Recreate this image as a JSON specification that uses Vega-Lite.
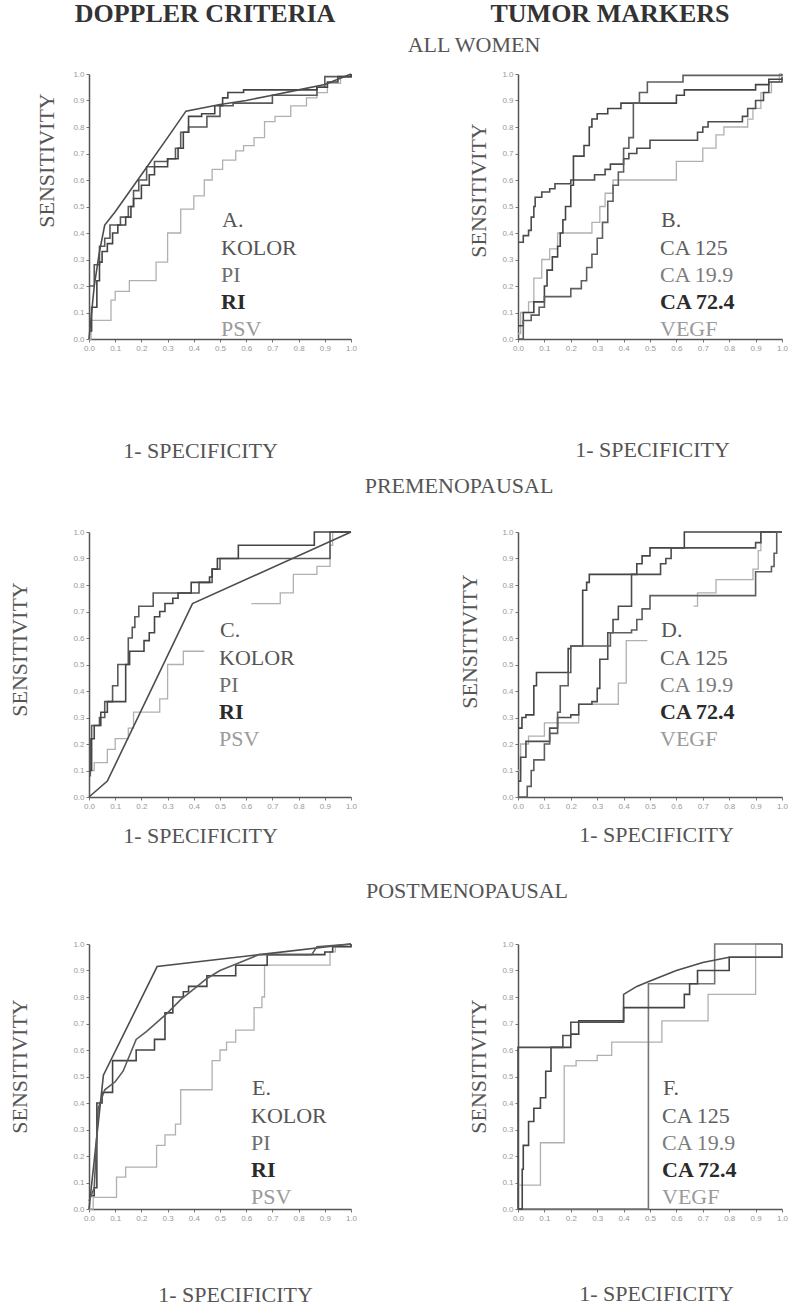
{
"$schema":"https://vega.github.io/schema/vega-lite/v6.json",
"background":"white",
"padding":{"left":7,"top":1,"right":0,"bottom":0},
"config":{
 "view":{"stroke":null},
 "font":"Liberation Serif",
 "axis":{"grid":false,"domainColor":"#555","domainWidth":1.5,"tickColor":"#777","tickSize":3,"tickWidth":1,"labelFont":"Liberation Sans","labelFontSize":8,"labelColor":"#999999","labelPadding":2,"labelFlush":false,"labelOverlap":false,"titleFont":"Liberation Serif","titleFontSize":22,"titleFontWeight":"normal","titleColor":"#555"},
 "legend":{"titleFont":"Liberation Serif","titleFontSize":22,"titleFontWeight":"normal","titleColor":"#555","labelFont":"Liberation Serif","labelFontSize":22,"symbolSize":0,"symbolOpacity":0,"symbolStrokeWidth":0,"labelOffset":-23,"rowPadding":5,"titlePadding":5,"padding":3,"labelLimit":0},
 "title":{"font":"Liberation Serif","fontSize":26,"fontWeight":"bold","color":"#333"}
},
"datasets":{
 "A":[
 {"s":"KOLOR","x":0,"y":0},{"s":"KOLOR","x":0.02,"y":0.2},{"s":"KOLOR","x":0.04,"y":0.33},{"s":"KOLOR","x":0.06,"y":0.43},{"s":"KOLOR","x":0.1,"y":0.48},{"s":"KOLOR","x":0.2,"y":0.62},{"s":"KOLOR","x":0.3,"y":0.76},{"s":"KOLOR","x":0.37,"y":0.86},{"s":"KOLOR","x":0.5,"y":0.885},{"s":"KOLOR","x":0.6,"y":0.9},{"s":"KOLOR","x":0.7,"y":0.92},{"s":"KOLOR","x":0.8,"y":0.94},{"s":"KOLOR","x":0.9,"y":0.96},{"s":"KOLOR","x":1,"y":1},
 {"s":"PI","x":0,"y":0.2},{"s":"PI","x":0.02,"y":0.28},{"s":"PI","x":0.04,"y":0.35},{"s":"PI","x":0.06,"y":0.38},{"s":"PI","x":0.08,"y":0.43},{"s":"PI","x":0.12,"y":0.46},{"s":"PI","x":0.15,"y":0.5},{"s":"PI","x":0.17,"y":0.56},{"s":"PI","x":0.19,"y":0.6},{"s":"PI","x":0.22,"y":0.65},{"s":"PI","x":0.25,"y":0.67},{"s":"PI","x":0.3,"y":0.68},{"s":"PI","x":0.33,"y":0.72},{"s":"PI","x":0.35,"y":0.78},{"s":"PI","x":0.38,"y":0.8},{"s":"PI","x":0.45,"y":0.84},{"s":"PI","x":0.5,"y":0.88},{"s":"PI","x":0.55,"y":0.89},{"s":"PI","x":0.7,"y":0.92},{"s":"PI","x":0.87,"y":0.95},{"s":"PI","x":0.9,"y":0.99},{"s":"PI","x":1,"y":1},
 {"s":"RI","x":0,"y":0.03},{"s":"RI","x":0.01,"y":0.12},{"s":"RI","x":0.03,"y":0.22},{"s":"RI","x":0.04,"y":0.29},{"s":"RI","x":0.05,"y":0.33},{"s":"RI","x":0.07,"y":0.36},{"s":"RI","x":0.09,"y":0.4},{"s":"RI","x":0.11,"y":0.43},{"s":"RI","x":0.14,"y":0.46},{"s":"RI","x":0.16,"y":0.5},{"s":"RI","x":0.17,"y":0.53},{"s":"RI","x":0.2,"y":0.58},{"s":"RI","x":0.23,"y":0.62},{"s":"RI","x":0.25,"y":0.65},{"s":"RI","x":0.3,"y":0.68},{"s":"RI","x":0.34,"y":0.72},{"s":"RI","x":0.36,"y":0.78},{"s":"RI","x":0.38,"y":0.84},{"s":"RI","x":0.43,"y":0.85},{"s":"RI","x":0.48,"y":0.88},{"s":"RI","x":0.51,"y":0.91},{"s":"RI","x":0.53,"y":0.93},{"s":"RI","x":0.59,"y":0.94},{"s":"RI","x":0.87,"y":0.95},{"s":"RI","x":0.91,"y":0.97},{"s":"RI","x":0.95,"y":0.99},{"s":"RI","x":1,"y":1},
 {"s":"PSV","x":0,"y":0},{"s":"PSV","x":0.008,"y":0.07},{"s":"PSV","x":0.084,"y":0.147},{"s":"PSV","x":0.1,"y":0.18},{"s":"PSV","x":0.154,"y":0.22},{"s":"PSV","x":0.256,"y":0.29},{"s":"PSV","x":0.3,"y":0.4},{"s":"PSV","x":0.35,"y":0.49},{"s":"PSV","x":0.4,"y":0.54},{"s":"PSV","x":0.44,"y":0.6},{"s":"PSV","x":0.47,"y":0.64},{"s":"PSV","x":0.51,"y":0.675},{"s":"PSV","x":0.56,"y":0.71},{"s":"PSV","x":0.59,"y":0.73},{"s":"PSV","x":0.63,"y":0.76},{"s":"PSV","x":0.67,"y":0.82},{"s":"PSV","x":0.71,"y":0.84},{"s":"PSV","x":0.77,"y":0.88},{"s":"PSV","x":0.83,"y":0.91},{"s":"PSV","x":0.87,"y":0.93},{"s":"PSV","x":0.91,"y":0.965},{"s":"PSV","x":0.96,"y":0.99},{"s":"PSV","x":1,"y":1}
 ],
 "B":[
 {"s":"CA 125","x":0,"y":0.365},{"s":"CA 125","x":0.02,"y":0.39},{"s":"CA 125","x":0.04,"y":0.41},{"s":"CA 125","x":0.05,"y":0.46},{"s":"CA 125","x":0.06,"y":0.5},{"s":"CA 125","x":0.065,"y":0.535},{"s":"CA 125","x":0.09,"y":0.555},{"s":"CA 125","x":0.12,"y":0.567},{"s":"CA 125","x":0.14,"y":0.586},{"s":"CA 125","x":0.2,"y":0.6},{"s":"CA 125","x":0.29,"y":0.62},{"s":"CA 125","x":0.33,"y":0.64},{"s":"CA 125","x":0.35,"y":0.66},{"s":"CA 125","x":0.4,"y":0.68},{"s":"CA 125","x":0.42,"y":0.7},{"s":"CA 125","x":0.45,"y":0.72},{"s":"CA 125","x":0.5,"y":0.75},{"s":"CA 125","x":0.68,"y":0.78},{"s":"CA 125","x":0.7,"y":0.8},{"s":"CA 125","x":0.72,"y":0.82},{"s":"CA 125","x":0.85,"y":0.84},{"s":"CA 125","x":0.87,"y":0.87},{"s":"CA 125","x":0.9,"y":0.9},{"s":"CA 125","x":0.93,"y":0.93},{"s":"CA 125","x":0.95,"y":0.97},{"s":"CA 125","x":1,"y":0.98},
 {"s":"CA 72.4","x":0,"y":0.05},{"s":"CA 72.4","x":0.02,"y":0.1},{"s":"CA 72.4","x":0.06,"y":0.14},{"s":"CA 72.4","x":0.1,"y":0.2},{"s":"CA 72.4","x":0.11,"y":0.26},{"s":"CA 72.4","x":0.13,"y":0.31},{"s":"CA 72.4","x":0.15,"y":0.35},{"s":"CA 72.4","x":0.16,"y":0.4},{"s":"CA 72.4","x":0.17,"y":0.45},{"s":"CA 72.4","x":0.18,"y":0.5},{"s":"CA 72.4","x":0.2,"y":0.58},{"s":"CA 72.4","x":0.21,"y":0.69},{"s":"CA 72.4","x":0.25,"y":0.73},{"s":"CA 72.4","x":0.27,"y":0.8},{"s":"CA 72.4","x":0.28,"y":0.83},{"s":"CA 72.4","x":0.3,"y":0.85},{"s":"CA 72.4","x":0.34,"y":0.87},{"s":"CA 72.4","x":0.39,"y":0.89},{"s":"CA 72.4","x":0.6,"y":0.92},{"s":"CA 72.4","x":0.63,"y":0.94},{"s":"CA 72.4","x":0.9,"y":0.96},{"s":"CA 72.4","x":0.95,"y":0.98},{"s":"CA 72.4","x":1,"y":0.99},
 {"s":"CA 19.9","x":0,"y":0},{"s":"CA 19.9","x":0.02,"y":0.07},{"s":"CA 19.9","x":0.05,"y":0.09},{"s":"CA 19.9","x":0.08,"y":0.12},{"s":"CA 19.9","x":0.1,"y":0.16},{"s":"CA 19.9","x":0.2,"y":0.19},{"s":"CA 19.9","x":0.24,"y":0.22},{"s":"CA 19.9","x":0.26,"y":0.27},{"s":"CA 19.9","x":0.28,"y":0.32},{"s":"CA 19.9","x":0.3,"y":0.38},{"s":"CA 19.9","x":0.32,"y":0.44},{"s":"CA 19.9","x":0.34,"y":0.52},{"s":"CA 19.9","x":0.36,"y":0.58},{"s":"CA 19.9","x":0.38,"y":0.63},{"s":"CA 19.9","x":0.4,"y":0.72},{"s":"CA 19.9","x":0.42,"y":0.76},{"s":"CA 19.9","x":0.437,"y":0.89},{"s":"CA 19.9","x":0.46,"y":0.93},{"s":"CA 19.9","x":0.49,"y":0.97},{"s":"CA 19.9","x":0.625,"y":0.995},{"s":"CA 19.9","x":1,"y":1},
 {"s":"VEGF","x":0,"y":0.02},{"s":"VEGF","x":0.01,"y":0.1},{"s":"VEGF","x":0.04,"y":0.14},{"s":"VEGF","x":0.06,"y":0.23},{"s":"VEGF","x":0.09,"y":0.3},{"s":"VEGF","x":0.12,"y":0.34},{"s":"VEGF","x":0.15,"y":0.4},{"s":"VEGF","x":0.28,"y":0.44},{"s":"VEGF","x":0.31,"y":0.5},{"s":"VEGF","x":0.33,"y":0.55},{"s":"VEGF","x":0.36,"y":0.6},{"s":"VEGF","x":0.6,"y":0.67},{"s":"VEGF","x":0.7,"y":0.72},{"s":"VEGF","x":0.75,"y":0.77},{"s":"VEGF","x":0.78,"y":0.8},{"s":"VEGF","x":0.87,"y":0.83},{"s":"VEGF","x":0.89,"y":0.87},{"s":"VEGF","x":0.92,"y":0.93},{"s":"VEGF","x":0.96,"y":0.97},{"s":"VEGF","x":0.99,"y":1},{"s":"VEGF","x":1,"y":1}
 ],
 "C":[
 {"s":"KOLOR","x":0,"y":0},{"s":"KOLOR","x":0.07,"y":0.06},{"s":"KOLOR","x":0.395,"y":0.73},{"s":"KOLOR","x":1,"y":1},
 {"s":"PI","x":0,"y":0.08},{"s":"PI","x":0.005,"y":0.22},{"s":"PI","x":0.01,"y":0.27},{"s":"PI","x":0.04,"y":0.3},{"s":"PI","x":0.06,"y":0.36},{"s":"PI","x":0.09,"y":0.42},{"s":"PI","x":0.11,"y":0.5},{"s":"PI","x":0.15,"y":0.6},{"s":"PI","x":0.165,"y":0.64},{"s":"PI","x":0.175,"y":0.68},{"s":"PI","x":0.19,"y":0.72},{"s":"PI","x":0.245,"y":0.77},{"s":"PI","x":0.42,"y":0.81},{"s":"PI","x":0.47,"y":0.86},{"s":"PI","x":0.5,"y":0.9},{"s":"PI","x":0.92,"y":1},{"s":"PI","x":1,"y":1},
 {"s":"RI","x":0,"y":0.1},{"s":"RI","x":0.01,"y":0.22},{"s":"RI","x":0.02,"y":0.27},{"s":"RI","x":0.045,"y":0.32},{"s":"RI","x":0.07,"y":0.36},{"s":"RI","x":0.14,"y":0.5},{"s":"RI","x":0.155,"y":0.55},{"s":"RI","x":0.21,"y":0.59},{"s":"RI","x":0.23,"y":0.62},{"s":"RI","x":0.25,"y":0.68},{"s":"RI","x":0.27,"y":0.7},{"s":"RI","x":0.29,"y":0.73},{"s":"RI","x":0.32,"y":0.75},{"s":"RI","x":0.34,"y":0.77},{"s":"RI","x":0.39,"y":0.81},{"s":"RI","x":0.46,"y":0.83},{"s":"RI","x":0.47,"y":0.86},{"s":"RI","x":0.49,"y":0.9},{"s":"RI","x":0.57,"y":0.95},{"s":"RI","x":0.86,"y":1},{"s":"RI","x":1,"y":1},
 {"s":"PSV","g":1,"x":0,"y":0.1},{"s":"PSV","g":1,"x":0.02,"y":0.13},{"s":"PSV","g":1,"x":0.07,"y":0.18},{"s":"PSV","g":1,"x":0.1,"y":0.22},{"s":"PSV","g":1,"x":0.15,"y":0.26},{"s":"PSV","g":1,"x":0.17,"y":0.32},{"s":"PSV","g":1,"x":0.27,"y":0.37},{"s":"PSV","g":1,"x":0.3,"y":0.5},{"s":"PSV","g":1,"x":0.36,"y":0.55},{"s":"PSV","g":1,"x":0.44,"y":0.55},
 {"s":"PSV","g":2,"x":0.62,"y":0.73},{"s":"PSV","g":2,"x":0.73,"y":0.77},{"s":"PSV","g":2,"x":0.78,"y":0.84},{"s":"PSV","g":2,"x":0.87,"y":0.87},{"s":"PSV","g":2,"x":0.92,"y":0.95},{"s":"PSV","g":2,"x":0.93,"y":1},{"s":"PSV","g":2,"x":1,"y":1}
 ],
 "D":[
 {"s":"CA 72.4","x":0,"y":0.26},{"s":"CA 72.4","x":0.015,"y":0.3},{"s":"CA 72.4","x":0.03,"y":0.31},{"s":"CA 72.4","x":0.06,"y":0.42},{"s":"CA 72.4","x":0.07,"y":0.47},{"s":"CA 72.4","x":0.19,"y":0.56},{"s":"CA 72.4","x":0.2,"y":0.57},{"s":"CA 72.4","x":0.245,"y":0.78},{"s":"CA 72.4","x":0.26,"y":0.81},{"s":"CA 72.4","x":0.27,"y":0.84},{"s":"CA 72.4","x":0.45,"y":0.88},{"s":"CA 72.4","x":0.47,"y":0.91},{"s":"CA 72.4","x":0.5,"y":0.94},{"s":"CA 72.4","x":0.63,"y":1},{"s":"CA 72.4","x":1,"y":1},
 {"s":"CA 125","x":0,"y":0.06},{"s":"CA 125","x":0.01,"y":0.15},{"s":"CA 125","x":0.03,"y":0.21},{"s":"CA 125","x":0.12,"y":0.26},{"s":"CA 125","x":0.15,"y":0.3},{"s":"CA 125","x":0.2,"y":0.31},{"s":"CA 125","x":0.23,"y":0.35},{"s":"CA 125","x":0.28,"y":0.36},{"s":"CA 125","x":0.3,"y":0.41},{"s":"CA 125","x":0.31,"y":0.52},{"s":"CA 125","x":0.34,"y":0.62},{"s":"CA 125","x":0.36,"y":0.67},{"s":"CA 125","x":0.38,"y":0.72},{"s":"CA 125","x":0.43,"y":0.84},{"s":"CA 125","x":0.54,"y":0.88},{"s":"CA 125","x":0.56,"y":0.9},{"s":"CA 125","x":0.58,"y":0.94},{"s":"CA 125","x":0.9,"y":0.96},{"s":"CA 125","x":0.92,"y":1},{"s":"CA 125","x":1,"y":1},
 {"s":"CA 19.9","x":0,"y":0},{"s":"CA 19.9","x":0.035,"y":0.04},{"s":"CA 19.9","x":0.05,"y":0.1},{"s":"CA 19.9","x":0.06,"y":0.14},{"s":"CA 19.9","x":0.1,"y":0.2},{"s":"CA 19.9","x":0.12,"y":0.24},{"s":"CA 19.9","x":0.15,"y":0.32},{"s":"CA 19.9","x":0.16,"y":0.42},{"s":"CA 19.9","x":0.19,"y":0.47},{"s":"CA 19.9","x":0.2,"y":0.57},{"s":"CA 19.9","x":0.35,"y":0.62},{"s":"CA 19.9","x":0.43,"y":0.63},{"s":"CA 19.9","x":0.45,"y":0.67},{"s":"CA 19.9","x":0.47,"y":0.71},{"s":"CA 19.9","x":0.5,"y":0.76},{"s":"CA 19.9","x":0.9,"y":0.85},{"s":"CA 19.9","x":0.96,"y":0.87},{"s":"CA 19.9","x":0.97,"y":0.92},{"s":"CA 19.9","x":0.98,"y":1},{"s":"CA 19.9","x":1,"y":1},
 {"s":"VEGF","g":1,"x":0,"y":0.1},{"s":"VEGF","g":1,"x":0.01,"y":0.2},{"s":"VEGF","g":1,"x":0.04,"y":0.23},{"s":"VEGF","g":1,"x":0.1,"y":0.28},{"s":"VEGF","g":1,"x":0.23,"y":0.35},{"s":"VEGF","g":1,"x":0.38,"y":0.43},{"s":"VEGF","g":1,"x":0.41,"y":0.59},{"s":"VEGF","g":1,"x":0.49,"y":0.59},
 {"s":"VEGF","g":2,"x":0.665,"y":0.72},{"s":"VEGF","g":2,"x":0.68,"y":0.77},{"s":"VEGF","g":2,"x":0.75,"y":0.82},{"s":"VEGF","g":2,"x":0.89,"y":0.86},{"s":"VEGF","g":2,"x":0.91,"y":0.93},{"s":"VEGF","g":2,"x":0.92,"y":1},{"s":"VEGF","g":2,"x":1,"y":1}
 ],
 "E":[
 {"s":"KOLOR","x":0,"y":0},{"s":"KOLOR","x":0.055,"y":0.505},{"s":"KOLOR","x":0.26,"y":0.915},{"s":"KOLOR","x":0.65,"y":0.96},{"s":"KOLOR","x":1,"y":1},
 {"s":"PI","x":0,"y":0.03},{"s":"PI","x":0.02,"y":0.08},{"s":"PI","x":0.035,"y":0.38},{"s":"PI","x":0.06,"y":0.45},{"s":"PI","x":0.1,"y":0.48},{"s":"PI","x":0.13,"y":0.52},{"s":"PI","x":0.18,"y":0.64},{"s":"PI","x":0.22,"y":0.67},{"s":"PI","x":0.3,"y":0.74},{"s":"PI","x":0.35,"y":0.79},{"s":"PI","x":0.4,"y":0.83},{"s":"PI","x":0.45,"y":0.87},{"s":"PI","x":0.5,"y":0.9},{"s":"PI","x":0.55,"y":0.92},{"s":"PI","x":0.65,"y":0.96},{"s":"PI","x":0.85,"y":0.96},{"s":"PI","x":0.87,"y":0.99},{"s":"PI","x":1,"y":1},
 {"s":"RI","x":0,"y":0.05},{"s":"RI","x":0.02,"y":0.08},{"s":"RI","x":0.03,"y":0.4},{"s":"RI","x":0.05,"y":0.44},{"s":"RI","x":0.09,"y":0.56},{"s":"RI","x":0.18,"y":0.6},{"s":"RI","x":0.25,"y":0.64},{"s":"RI","x":0.29,"y":0.74},{"s":"RI","x":0.32,"y":0.8},{"s":"RI","x":0.36,"y":0.82},{"s":"RI","x":0.38,"y":0.84},{"s":"RI","x":0.45,"y":0.88},{"s":"RI","x":0.56,"y":0.92},{"s":"RI","x":0.68,"y":0.96},{"s":"RI","x":0.9,"y":0.97},{"s":"RI","x":0.93,"y":0.99},{"s":"RI","x":1,"y":1},
 {"s":"PSV","x":0,"y":0},{"s":"PSV","x":0.016,"y":0.044},{"s":"PSV","x":0.105,"y":0.12},{"s":"PSV","x":0.14,"y":0.158},{"s":"PSV","x":0.258,"y":0.24},{"s":"PSV","x":0.29,"y":0.28},{"s":"PSV","x":0.33,"y":0.32},{"s":"PSV","x":0.35,"y":0.45},{"s":"PSV","x":0.47,"y":0.56},{"s":"PSV","x":0.5,"y":0.6},{"s":"PSV","x":0.525,"y":0.63},{"s":"PSV","x":0.56,"y":0.675},{"s":"PSV","x":0.63,"y":0.76},{"s":"PSV","x":0.66,"y":0.8},{"s":"PSV","x":0.67,"y":0.92},{"s":"PSV","x":0.92,"y":0.97},{"s":"PSV","x":0.94,"y":0.99},{"s":"PSV","x":1,"y":1}
 ],
 "F":[
 {"s":"CA 125","x":0,"y":0},{"s":"CA 125","x":0,"y":0.61},{"s":"CA 125","x":0.17,"y":0.61},{"s":"CA 125","x":0.17,"y":0.655},{"s":"CA 125","x":0.2,"y":0.655},{"s":"CA 125","x":0.2,"y":0.705},{"s":"CA 125","x":0.4,"y":0.705},{"s":"CA 125","x":0.4,"y":0.81},{"s":"CA 125","x":0.45,"y":0.84},{"s":"CA 125","x":0.5,"y":0.86},{"s":"CA 125","x":0.6,"y":0.9},{"s":"CA 125","x":0.7,"y":0.93},{"s":"CA 125","x":0.8,"y":0.95},{"s":"CA 125","x":1,"y":0.95},{"s":"CA 125","x":1,"y":1},
 {"s":"CA 19.9","x":0,"y":0},{"s":"CA 19.9","x":0.494,"y":0.85},{"s":"CA 19.9","x":0.745,"y":1},{"s":"CA 19.9","x":1,"y":1},
 {"s":"CA 72.4","x":0,"y":0},{"s":"CA 72.4","x":0.016,"y":0.15},{"s":"CA 72.4","x":0.02,"y":0.24},{"s":"CA 72.4","x":0.04,"y":0.33},{"s":"CA 72.4","x":0.06,"y":0.38},{"s":"CA 72.4","x":0.085,"y":0.42},{"s":"CA 72.4","x":0.105,"y":0.52},{"s":"CA 72.4","x":0.125,"y":0.61},{"s":"CA 72.4","x":0.2,"y":0.66},{"s":"CA 72.4","x":0.23,"y":0.71},{"s":"CA 72.4","x":0.4,"y":0.76},{"s":"CA 72.4","x":0.63,"y":0.81},{"s":"CA 72.4","x":0.65,"y":0.85},{"s":"CA 72.4","x":0.68,"y":0.9},{"s":"CA 72.4","x":0.8,"y":0.95},{"s":"CA 72.4","x":1,"y":0.95},
 {"s":"VEGF","x":0,"y":0.09},{"s":"VEGF","x":0.085,"y":0.25},{"s":"VEGF","x":0.175,"y":0.54},{"s":"VEGF","x":0.22,"y":0.56},{"s":"VEGF","x":0.3,"y":0.58},{"s":"VEGF","x":0.355,"y":0.63},{"s":"VEGF","x":0.545,"y":0.71},{"s":"VEGF","x":0.72,"y":0.81},{"s":"VEGF","x":0.9,"y":1},{"s":"VEGF","x":1,"y":1}
 ]
},
"vconcat":[
 {"hconcat":[
  {"data":{"name":"A"},"width":262,"height":265,
   "title":{"text":"DOPPLER CRITERIA","anchor":"middle","frame":"group","offset":43,"dx":-15},
   "encoding":{
    "x":{"field":"x","type":"quantitative","scale":{"domain":[0,1],"nice":false,"zero":false},"axis":{"values":[0,0.1,0.2,0.3,0.4,0.5,0.6,0.7,0.8,0.9,1],"format":".1f","title":"1- SPECIFICITY","titleFont":"Liberation Serif","titleX":111,"titleY":111,"titleAlign":"center","titleBaseline":"middle"}},
    "y":{"field":"y","type":"quantitative","scale":{"domain":[0,1],"nice":false,"zero":false},"axis":{"values":[0,0.1,0.2,0.3,0.4,0.5,0.6,0.7,0.8,0.9,1],"format":".1f","title":"SENSITIVITY","titleFont":"Liberation Serif","titleX":-43,"titleY":86,"titleAlign":"center","titleBaseline":"middle","titleAngle":-90}},
    "color":{"field":"s","type":"nominal","scale":{"domain":["KOLOR","PI","RI","PSV"],"range":["#4d4d4d","#5a5a5a","#444444","#b0b0b0"]},
     "legend":{"orient":"none","legendX":130,"legendY":133,"title":"A.","titleFont":"Liberation Serif","labelFont":"Liberation Serif","encode":{"labels":{"update":{"fill":{"signal":"datum.value==='KOLOR'?'#555555':datum.value==='PI'?'#6e6e6e':(datum.value==='RI'||datum.value==='CA 72.4')?'#2b2b2b':datum.value==='CA 125'?'#606060':datum.value==='CA 19.9'?'#7c7c7c':'#9a9a9a'"},"fontWeight":{"signal":"(datum.value==='RI'||datum.value==='CA 72.4')?'bold':'normal'"}}}}}}
   },
   "layer":[
    {"transform":[{"filter":{"field":"s","oneOf":["PSV"]}}],"mark":{"type":"line","interpolate":"step-after","strokeWidth":1.3},"encoding":{}},
    {"transform":[{"filter":{"field":"s","oneOf":["PI","RI"]}}],"mark":{"type":"line","interpolate":"step-after","strokeWidth":1.6},"encoding":{}},
    {"transform":[{"filter":{"field":"s","oneOf":["KOLOR"]}}],"mark":{"type":"line","strokeWidth":1.6},"encoding":{}}
   ]},
  {"data":{"name":"B"},"width":264,"height":265,
   "title":{"text":"TUMOR MARKERS","anchor":"middle","frame":"group","offset":43,"dx":-40},
   "encoding":{
    "x":{"field":"x","type":"quantitative","scale":{"domain":[0,1],"nice":false,"zero":false},"axis":{"values":[0,0.1,0.2,0.3,0.4,0.5,0.6,0.7,0.8,0.9,1],"format":".1f","title":"1- SPECIFICITY","titleFont":"Liberation Serif","titleX":134,"titleY":110,"titleAlign":"center","titleBaseline":"middle"}},
    "y":{"field":"y","type":"quantitative","scale":{"domain":[0,1],"nice":false,"zero":false},"axis":{"values":[0,0.1,0.2,0.3,0.4,0.5,0.6,0.7,0.8,0.9,1],"format":".1f","title":"SENSITIVITY","titleFont":"Liberation Serif","titleX":-40,"titleY":116,"titleAlign":"center","titleBaseline":"middle","titleAngle":-90}},
    "color":{"field":"s","type":"nominal","scale":{"domain":["CA 125","CA 19.9","CA 72.4","VEGF"],"range":["#4d4d4d","#5e5e5e","#444444","#b0b0b0"]},
     "legend":{"orient":"none","legendX":140,"legendY":133,"title":"B.","titleFont":"Liberation Serif","labelFont":"Liberation Serif","encode":{"labels":{"update":{"fill":{"signal":"datum.value==='KOLOR'?'#555555':datum.value==='PI'?'#6e6e6e':(datum.value==='RI'||datum.value==='CA 72.4')?'#2b2b2b':datum.value==='CA 125'?'#606060':datum.value==='CA 19.9'?'#7c7c7c':'#9a9a9a'"},"fontWeight":{"signal":"(datum.value==='RI'||datum.value==='CA 72.4')?'bold':'normal'"}}}}}}
   },
   "layer":[
    {"transform":[{"filter":{"field":"s","oneOf":["VEGF"]}}],"mark":{"type":"line","interpolate":"step-after","strokeWidth":1.3},"encoding":{}},
    {"transform":[{"filter":{"field":"s","oneOf":["CA 125","CA 19.9","CA 72.4"]}}],"mark":{"type":"line","interpolate":"step-after","strokeWidth":1.6},"encoding":{}}
   ]}
  ],
  "spacing":167,"bounds":"flush",
  "title":{"text":"ALL WOMEN","anchor":"middle","frame":"group","offset":0,"dx":385,"dy":56,"fontSize":22,"fontWeight":"normal","color":"#555"},
  "resolve":{"scale":{"color":"independent"},"legend":{"color":"independent"}}},
 {"vconcat":[
  {"hconcat":[
   {"data":{"name":"C"},"width":262,"height":265,
    "encoding":{
     "x":{"field":"x","type":"quantitative","scale":{"domain":[0,1],"nice":false,"zero":false},"axis":{"values":[0,0.1,0.2,0.3,0.4,0.5,0.6,0.7,0.8,0.9,1],"format":".1f","title":"1- SPECIFICITY","titleFont":"Liberation Serif","titleX":111,"titleY":38,"titleAlign":"center","titleBaseline":"middle"}},
     "y":{"field":"y","type":"quantitative","scale":{"domain":[0,1],"nice":false,"zero":false},"axis":{"values":[0,0.1,0.2,0.3,0.4,0.5,0.6,0.7,0.8,0.9,1],"format":".1f","title":"SENSITIVITY","titleFont":"Liberation Serif","titleX":-70,"titleY":117,"titleAlign":"center","titleBaseline":"middle","titleAngle":-90}},
     "color":{"field":"s","type":"nominal","scale":{"domain":["KOLOR","PI","RI","PSV"],"range":["#4d4d4d","#5a5a5a","#444444","#b0b0b0"]},
      "legend":{"orient":"none","legendX":128,"legendY":85,"title":"C.","titleFont":"Liberation Serif","labelFont":"Liberation Serif","encode":{"labels":{"update":{"fill":{"signal":"datum.value==='KOLOR'?'#555555':datum.value==='PI'?'#6e6e6e':(datum.value==='RI'||datum.value==='CA 72.4')?'#2b2b2b':datum.value==='CA 125'?'#606060':datum.value==='CA 19.9'?'#7c7c7c':'#9a9a9a'"},"fontWeight":{"signal":"(datum.value==='RI'||datum.value==='CA 72.4')?'bold':'normal'"}}}}}},
     "detail":{"field":"g"}
    },
    "layer":[
     {"transform":[{"filter":{"field":"s","oneOf":["PSV"]}}],"mark":{"type":"line","interpolate":"step-after","strokeWidth":1.3},"encoding":{}},
     {"transform":[{"filter":{"field":"s","oneOf":["PI","RI"]}}],"mark":{"type":"line","interpolate":"step-after","strokeWidth":1.6},"encoding":{}},
     {"transform":[{"filter":{"field":"s","oneOf":["KOLOR"]}}],"mark":{"type":"line","strokeWidth":1.6},"encoding":{}}
    ]},
   {"data":{"name":"D"},"width":264,"height":265,
    "encoding":{
     "x":{"field":"x","type":"quantitative","scale":{"domain":[0,1],"nice":false,"zero":false},"axis":{"values":[0,0.1,0.2,0.3,0.4,0.5,0.6,0.7,0.8,0.9,1],"format":".1f","title":"1- SPECIFICITY","titleFont":"Liberation Serif","titleX":138,"titleY":37,"titleAlign":"center","titleBaseline":"middle"}},
     "y":{"field":"y","type":"quantitative","scale":{"domain":[0,1],"nice":false,"zero":false},"axis":{"values":[0,0.1,0.2,0.3,0.4,0.5,0.6,0.7,0.8,0.9,1],"format":".1f","title":"SENSITIVITY","titleFont":"Liberation Serif","titleX":-49,"titleY":109,"titleAlign":"center","titleBaseline":"middle","titleAngle":-90}},
     "color":{"field":"s","type":"nominal","scale":{"domain":["CA 125","CA 19.9","CA 72.4","VEGF"],"range":["#4d4d4d","#5e5e5e","#444444","#b0b0b0"]},
      "legend":{"orient":"none","legendX":140,"legendY":85,"title":"D.","titleFont":"Liberation Serif","labelFont":"Liberation Serif","encode":{"labels":{"update":{"fill":{"signal":"datum.value==='KOLOR'?'#555555':datum.value==='PI'?'#6e6e6e':(datum.value==='RI'||datum.value==='CA 72.4')?'#2b2b2b':datum.value==='CA 125'?'#606060':datum.value==='CA 19.9'?'#7c7c7c':'#9a9a9a'"},"fontWeight":{"signal":"(datum.value==='RI'||datum.value==='CA 72.4')?'bold':'normal'"}}}}}},
     "detail":{"field":"g"}
    },
    "layer":[
     {"transform":[{"filter":{"field":"s","oneOf":["VEGF"]}}],"mark":{"type":"line","interpolate":"step-after","strokeWidth":1.3},"encoding":{}},
     {"transform":[{"filter":{"field":"s","oneOf":["CA 125","CA 19.9","CA 72.4"]}}],"mark":{"type":"line","interpolate":"step-after","strokeWidth":1.6},"encoding":{}}
    ]}
   ],
   "spacing":167,"bounds":"flush",
   "title":{"text":"PREMENOPAUSAL","anchor":"middle","frame":"group","offset":30,"dx":370,"fontSize":22,"fontWeight":"normal","color":"#555"},
   "resolve":{"scale":{"color":"independent"},"legend":{"color":"independent"}}},
  {"hconcat":[
   {"data":{"name":"E"},"width":262,"height":265,
    "encoding":{
     "x":{"field":"x","type":"quantitative","scale":{"domain":[0,1],"nice":false,"zero":false},"axis":{"values":[0,0.1,0.2,0.3,0.4,0.5,0.6,0.7,0.8,0.9,1],"format":".1f","title":"1- SPECIFICITY","titleFont":"Liberation Serif","titleX":146,"titleY":85,"titleAlign":"center","titleBaseline":"middle"}},
     "y":{"field":"y","type":"quantitative","scale":{"domain":[0,1],"nice":false,"zero":false},"axis":{"values":[0,0.1,0.2,0.3,0.4,0.5,0.6,0.7,0.8,0.9,1],"format":".1f","title":"SENSITIVITY","titleFont":"Liberation Serif","titleX":-70,"titleY":122,"titleAlign":"center","titleBaseline":"middle","titleAngle":-90}},
     "color":{"field":"s","type":"nominal","scale":{"domain":["KOLOR","PI","RI","PSV"],"range":["#4d4d4d","#5a5a5a","#444444","#b0b0b0"]},
      "legend":{"orient":"none","legendX":160,"legendY":131,"title":"E.","titleFont":"Liberation Serif","labelFont":"Liberation Serif","encode":{"labels":{"update":{"fill":{"signal":"datum.value==='KOLOR'?'#555555':datum.value==='PI'?'#6e6e6e':(datum.value==='RI'||datum.value==='CA 72.4')?'#2b2b2b':datum.value==='CA 125'?'#606060':datum.value==='CA 19.9'?'#7c7c7c':'#9a9a9a'"},"fontWeight":{"signal":"(datum.value==='RI'||datum.value==='CA 72.4')?'bold':'normal'"}}}}}}
    },
    "layer":[
     {"transform":[{"filter":{"field":"s","oneOf":["PSV"]}}],"mark":{"type":"line","interpolate":"step-after","strokeWidth":1.3},"encoding":{}},
     {"transform":[{"filter":{"field":"s","oneOf":["RI"]}}],"mark":{"type":"line","interpolate":"step-after","strokeWidth":1.6},"encoding":{}},
     {"transform":[{"filter":{"field":"s","oneOf":["KOLOR","PI"]}}],"mark":{"type":"line","strokeWidth":1.6},"encoding":{}}
    ]},
   {"data":{"name":"F"},"width":264,"height":265,
    "encoding":{
     "x":{"field":"x","type":"quantitative","scale":{"domain":[0,1],"nice":false,"zero":false},"axis":{"values":[0,0.1,0.2,0.3,0.4,0.5,0.6,0.7,0.8,0.9,1],"format":".1f","title":"1- SPECIFICITY","titleFont":"Liberation Serif","titleX":138,"titleY":84,"titleAlign":"center","titleBaseline":"middle"}},
     "y":{"field":"y","type":"quantitative","scale":{"domain":[0,1],"nice":false,"zero":false},"axis":{"values":[0,0.1,0.2,0.3,0.4,0.5,0.6,0.7,0.8,0.9,1],"format":".1f","title":"SENSITIVITY","titleFont":"Liberation Serif","titleX":-40,"titleY":122,"titleAlign":"center","titleBaseline":"middle","titleAngle":-90}},
     "color":{"field":"s","type":"nominal","scale":{"domain":["CA 125","CA 19.9","CA 72.4","VEGF"],"range":["#4d4d4d","#777777","#444444","#b0b0b0"]},
      "legend":{"orient":"none","legendX":142,"legendY":131,"title":"F.","titleFont":"Liberation Serif","labelFont":"Liberation Serif","encode":{"labels":{"update":{"fill":{"signal":"datum.value==='KOLOR'?'#555555':datum.value==='PI'?'#6e6e6e':(datum.value==='RI'||datum.value==='CA 72.4')?'#2b2b2b':datum.value==='CA 125'?'#606060':datum.value==='CA 19.9'?'#7c7c7c':'#9a9a9a'"},"fontWeight":{"signal":"(datum.value==='RI'||datum.value==='CA 72.4')?'bold':'normal'"}}}}}}
    },
    "layer":[
     {"transform":[{"filter":{"field":"s","oneOf":["VEGF"]}}],"mark":{"type":"line","interpolate":"step-after","strokeWidth":1.3},"encoding":{}},
     {"transform":[{"filter":{"field":"s","oneOf":["CA 19.9","CA 72.4"]}}],"mark":{"type":"line","interpolate":"step-after","strokeWidth":1.6},"encoding":{}},
     {"transform":[{"filter":{"field":"s","oneOf":["CA 125"]}}],"mark":{"type":"line","strokeWidth":1.6},"encoding":{}}
    ]}
   ],
   "spacing":167,"bounds":"flush",
   "title":{"text":"POSTMENOPAUSAL","anchor":"middle","frame":"group","offset":37,"dx":378,"fontSize":22,"fontWeight":"normal","color":"#555"},
   "resolve":{"scale":{"color":"independent"},"legend":{"color":"independent"}}}
  ],
  "spacing":412,"bounds":"flush",
  "resolve":{"scale":{"color":"independent"},"legend":{"color":"independent"}}}
],
"spacing":458,"bounds":"flush",
"resolve":{"scale":{"color":"independent"},"legend":{"color":"independent"}}
}
